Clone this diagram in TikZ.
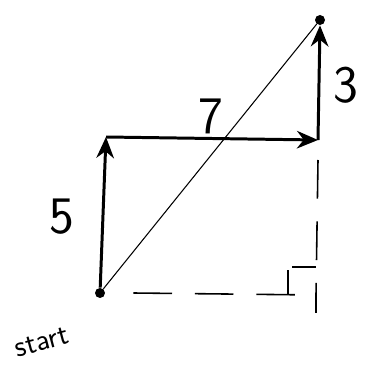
\documentclass[tikz,border=0pt]{standalone}
\usepackage{tikz}
\usetikzlibrary{arrows.meta,positioning}
\tikzset{
  pt/.style={circle,fill=black,inner sep=0pt,minimum size=0.2cm},
  vec/.style={-{Stealth[length=12pt,width=10pt]},line width=1.7pt},
  res/.style={line width=0.6pt},
  proj/.style={dashed,dash pattern=on 22pt off 13pt,line width=0.9pt},
  lbl/.style={font=\sffamily\fontsize{30}{30}\selectfont},
}
\begin{document}
\begin{tikzpicture}[x=0.02cm,y=0.02cm]
\useasboundingbox (0,0) rectangle (369,382);

% points of the walk
\node[pt] (start) at (100,89) {};
\coordinate (up) at (106,245);
\coordinate (across) at (318,242);
\node[pt] (stop) at (320,362) {};
\coordinate (corner) at (316,87);

% the three legs
\draw[vec] (start) -- (up);
\draw[vec] (up) -- (across);
\draw[vec] (across) -- (stop.south);

% straight line from start to stop
\draw[res] (start) -- (stop);

% projections
\draw[proj] (start.east) ++(28,0) -- (corner);
\draw[proj] (across) ++(0,-20) -- (corner) -- ++(0,-18);

% right angle mark
\draw[line width=1pt] (corner) ++(-28,0) -- ++(0,25) ++(4,3) -- ++(24,0);

% labels
\node[lbl] (five) at (62,165) {5};
\node[lbl] (seven) at (211,266) {7};
\node[lbl] (three) at (346,297) {3};
\node[font=\sffamily\LARGE,rotate=15] (startlbl) at (42,40) {start};
\end{tikzpicture}
\end{document}
